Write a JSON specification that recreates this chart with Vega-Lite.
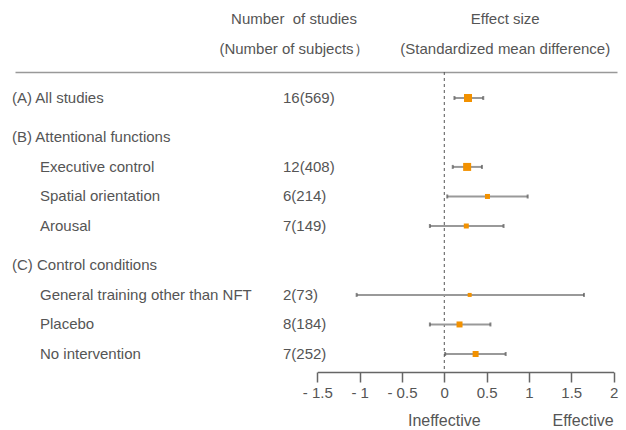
{
  "$schema": "https://vega.github.io/schema/vega-lite/v6.json",
  "width": 602,
  "height": 300,
  "autosize": {"type": "none"},
  "padding": {"left": 15, "top": 72, "right": 9, "bottom": 58},
  "background": "white",
  "config": {
    "view": {"stroke": null},
    "text": {"font": "Liberation Sans", "fontSize": 15, "color": "#555555"},
    "axis": {"labelFont": "Liberation Sans"}
  },
  "datasets": {
    "rows": [
      {"label": "(A) All studies", "level": "group", "n": "16(569)", "es": 0.28, "lo": 0.12, "hi": 0.46, "weight": 100},
      {"label": "(B) Attentional functions", "level": "group", "n": null, "es": null, "lo": null, "hi": null, "weight": null},
      {"label": "Executive control", "level": "item", "n": "12(408)", "es": 0.27, "lo": 0.10, "hi": 0.445, "weight": 100},
      {"label": "Spatial orientation", "level": "item", "n": "6(214)", "es": 0.51, "lo": 0.035, "hi": 0.985, "weight": 39},
      {"label": "Arousal", "level": "item", "n": "7(149)", "es": 0.26, "lo": -0.17, "hi": 0.70, "weight": 39},
      {"label": "(C) Control conditions", "level": "group", "n": null, "es": null, "lo": null, "hi": null, "weight": null},
      {"label": "General training other than NFT", "level": "item", "n": "2(73)", "es": 0.30, "lo": -1.035, "hi": 1.65, "weight": 25},
      {"label": "Placebo", "level": "item", "n": "8(184)", "es": 0.18, "lo": -0.17, "hi": 0.545, "weight": 56},
      {"label": "No intervention", "level": "item", "n": "7(252)", "es": 0.37, "lo": 0.01, "hi": 0.725, "weight": 56}
    ],
    "headers": [
      {"line": "hdr1", "text": "Number\u00a0 of studies", "col": "n"},
      {"line": "hdr2", "text": "(Number of subjects）", "col": "n"},
      {"line": "hdr1", "text": "Effect size", "col": "es"},
      {"line": "hdr2", "text": "(Standardized mean difference)", "col": "es"}
    ],
    "ends": [
      {"lbl": "Ineffective", "at": 0, "line": "bottom"},
      {"lbl": "Effective", "at": 2, "line": "bottom"}
    ]
  },
  "layer": [
    {
      "layer": [
        {
          "data": {"name": "rows"},
          "transform": [{"filter": "datum.level === 'group'"}],
          "mark": {"type": "text", "align": "left", "baseline": "middle", "dx": -3},
          "encoding": {
            "x": {"datum": "name_col", "type": "nominal",
              "scale": {"type": "point", "domain": ["name_col", "count_col"], "padding": 0.6231, "align": 0},
              "axis": {"orient": "top", "domain": true, "domainColor": "#999999", "domainWidth": 1.5, "ticks": false, "labels": false, "title": null, "grid": false}},
            "y": {"field": "label", "type": "nominal",
              "scale": {"type": "point", "padding": 0, "range": [-52.77, 350.92],
                "domain": ["hdr1","_s1","_s2","hdr2","_s3","_s4","_s5","_s6","(A) All studies","_s7","_s8","_s9","(B) Attentional functions","_s10","_s11","Executive control","_s12","_s13","Spatial orientation","_s14","_s15","Arousal","_s16","_s17","_s18","(C) Control conditions","_s19","_s20","General training other than NFT","_s21","_s22","Placebo","_s23","_s24","No intervention","_s25","_s26","_s27","_s28","_s29","_s30","bottom"]},
              "axis": null},
            "text": {"field": "label"}
          }
        },
        {
          "data": {"name": "rows"},
          "transform": [{"filter": "datum.level === 'item'"}],
          "mark": {"type": "text", "align": "left", "baseline": "middle", "dx": 25},
          "encoding": {
            "x": {"datum": "name_col", "type": "nominal"},
            "y": {"field": "label", "type": "nominal", "axis": null},
            "text": {"field": "label"}
          }
        },
        {
          "data": {"name": "rows"},
          "transform": [{"filter": "isValid(datum.n)"}],
          "mark": {"type": "text", "align": "left", "baseline": "middle"},
          "encoding": {
            "x": {"datum": "count_col", "type": "nominal"},
            "y": {"field": "label", "type": "nominal", "axis": null},
            "text": {"field": "n"}
          }
        },
        {
          "data": {"name": "headers"},
          "transform": [{"filter": "datum.col === 'n'"}],
          "mark": {"type": "text", "align": "center", "baseline": "middle", "dx": 11},
          "encoding": {
            "x": {"datum": "count_col", "type": "nominal"},
            "y": {"field": "line", "type": "nominal", "axis": null},
            "text": {"field": "text"}
          }
        }
      ]
    },
    {
      "layer": [
        {
          "data": {"values": [{"null_effect": 0}]},
          "mark": {"type": "rule", "strokeDash": [3, 3], "color": "#555555", "strokeWidth": 1},
          "encoding": {
            "x": {"field": "null_effect", "type": "quantitative",
              "scale": {"type": "linear", "domain": [-1.5, 2], "range": [302.3, 598.6], "zero": false, "nice": false},
              "axis": {"orient": "bottom", "values": [-1.5, -1, -0.5, 0, 0.5, 1, 1.5, 2], "domainColor": "#666666", "domainWidth": 1.5, "tickColor": "#666666", "tickWidth": 1.5, "tickSize": 10, "labelFontSize": 15, "labelColor": "#555555", "labelPadding": 3, "labelFlush": false, "labelOverlap": false, "labelExpr": "datum.value < 0 ? '- ' + (-datum.value) : '' + datum.value", "title": null, "grid": false}}
          }
        },
        {
          "data": {"name": "rows"},
          "transform": [{"filter": "isValid(datum.es)"}],
          "mark": {"type": "rule", "color": "#999999", "strokeWidth": 2},
          "encoding": {
            "x": {"field": "lo", "type": "quantitative"},
            "x2": {"field": "hi"},
            "y": {"field": "label", "type": "nominal", "axis": null}
          }
        },
        {
          "data": {"name": "rows"},
          "transform": [{"filter": "isValid(datum.es)"}],
          "mark": {"type": "tick", "color": "#555555", "size": 4, "thickness": 2},
          "encoding": {
            "x": {"field": "lo", "type": "quantitative"},
            "y": {"field": "label", "type": "nominal", "axis": null}
          }
        },
        {
          "data": {"name": "rows"},
          "transform": [{"filter": "isValid(datum.es)"}],
          "mark": {"type": "tick", "color": "#555555", "size": 4, "thickness": 2},
          "encoding": {
            "x": {"field": "hi", "type": "quantitative"},
            "y": {"field": "label", "type": "nominal", "axis": null}
          }
        },
        {
          "data": {"name": "rows"},
          "transform": [{"filter": "isValid(datum.es)"}],
          "mark": {"type": "square", "filled": true, "color": "#f29100", "opacity": 1},
          "encoding": {
            "x": {"field": "es", "type": "quantitative"},
            "y": {"field": "label", "type": "nominal", "axis": null},
            "size": {"field": "weight", "type": "quantitative", "scale": {"domain": [0, 100], "range": [0, 64]}, "legend": null}
          }
        },
        {
          "data": {"name": "headers"},
          "transform": [{"filter": "datum.col === 'es'"}],
          "mark": {"type": "text", "align": "center", "baseline": "middle"},
          "encoding": {
            "x": {"datum": 0.72, "type": "quantitative"},
            "y": {"field": "line", "type": "nominal", "axis": null},
            "text": {"field": "text"}
          }
        },
        {
          "data": {"name": "ends"},
          "transform": [{"filter": "datum.at === 0"}],
          "mark": {"type": "text", "align": "center", "baseline": "middle", "fontSize": 16, "dy": -2},
          "encoding": {
            "x": {"field": "at", "type": "quantitative"},
            "y": {"field": "line", "type": "nominal", "axis": null},
            "text": {"field": "lbl"}
          }
        },
        {
          "data": {"name": "ends"},
          "transform": [{"filter": "datum.at === 2"}],
          "mark": {"type": "text", "align": "right", "baseline": "middle", "fontSize": 16, "dy": -2},
          "encoding": {
            "x": {"field": "at", "type": "quantitative"},
            "y": {"field": "line", "type": "nominal", "axis": null},
            "text": {"field": "lbl"}
          }
        }
      ]
    }
  ],
  "resolve": {"scale": {"x": "independent"}}
}
